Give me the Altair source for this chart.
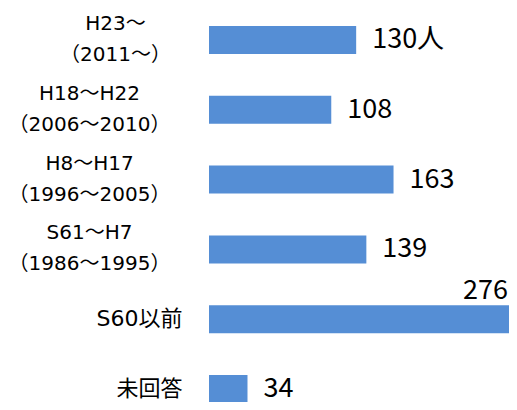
import json
import altair as alt
import pandas as pd

categories = [
    "H23～\n（2011～）",
    "H18～H22\n（2006～2010）",
    "H8～H17\n（1996～2005）",
    "S61～H7\n（1986～1995）",
    "S60以前",
    "未回答",
]
counts = [130, 108, 163, 139, 276, 34]
value_labels = ["130人", "108", "163", "139", "276", "34"]

df = pd.DataFrame({"cat": categories, "n": counts, "lab": value_labels})

XMAX = 265
FONT = "Noto Sans CJK JP"
AXFONT = "DejaVu Sans, Noto Sans CJK JP"
BLUE = "#558ed5"

first_test = "datum.value == " + json.dumps(categories[0], ensure_ascii=False)
single_test = "indexof(datum.value, '\\n') < 0"

y = alt.Y(
    "cat:N",
    sort=categories,
    title=None,
    scale=alt.Scale(range=[-2.9, 415.9], paddingInner=0, paddingOuter=0),
    axis=alt.Axis(
        domain=False,
        ticks=False,
        tickSize=0,
        grid=False,
        labelFont=AXFONT,
        labelFontSize={"condition": {"test": single_test, "value": 22}, "value": 20},
        labelColor="#000000",
        labelLineHeight=31,
        labelLimit=0,
        labelExpr="split(datum.label, '\\n')",
        labelAlign={"condition": {"test": single_test, "value": "right"}, "value": "center"},
        labelOffset={"condition": {"test": single_test, "value": 0}, "value": -16},
        labelPadding={
            "condition": [
                {"test": first_test, "value": 94},
                {"test": single_test, "value": 27},
            ],
            "value": 120,
        },
    ),
)

xscale = alt.Scale(domain=[0, XMAX], nice=False)

base = alt.Chart(df).transform_calculate(xl=f"min(datum.n, {XMAX})")

bars = base.mark_bar(size=28, color=BLUE, clip=True).encode(
    x=alt.X("n:Q", scale=xscale, axis=None),
    y=y,
)

lab_in = base.transform_filter(f"datum.n <= {XMAX}").mark_text(
    align="left", baseline="middle", dx=16, font=FONT, fontSize=27, color="#000000"
).encode(
    x=alt.X("n:Q", scale=xscale, axis=None),
    y=y,
    text="lab:N",
)

lab_out = base.transform_filter(f"datum.n > {XMAX}").mark_text(
    align="right", baseline="middle", dx=-1, dy=-28, font=FONT, fontSize=27, color="#000000"
).encode(
    x=alt.X("xl:Q", scale=xscale, axis=None),
    y=y,
    text="lab:N",
)

chart = (
    alt.layer(bars, lab_in, lab_out)
    .properties(
        width=300,
        height=394,
        autosize=alt.AutoSizeParams(type="none"),
        padding={"left": 201, "top": 0, "right": 0, "bottom": 0},
        background="#ffffff",
    )
    .configure_view(strokeWidth=0)
)

chart.save("out.html", embed_options={"renderer": "svg", "actions": False})
